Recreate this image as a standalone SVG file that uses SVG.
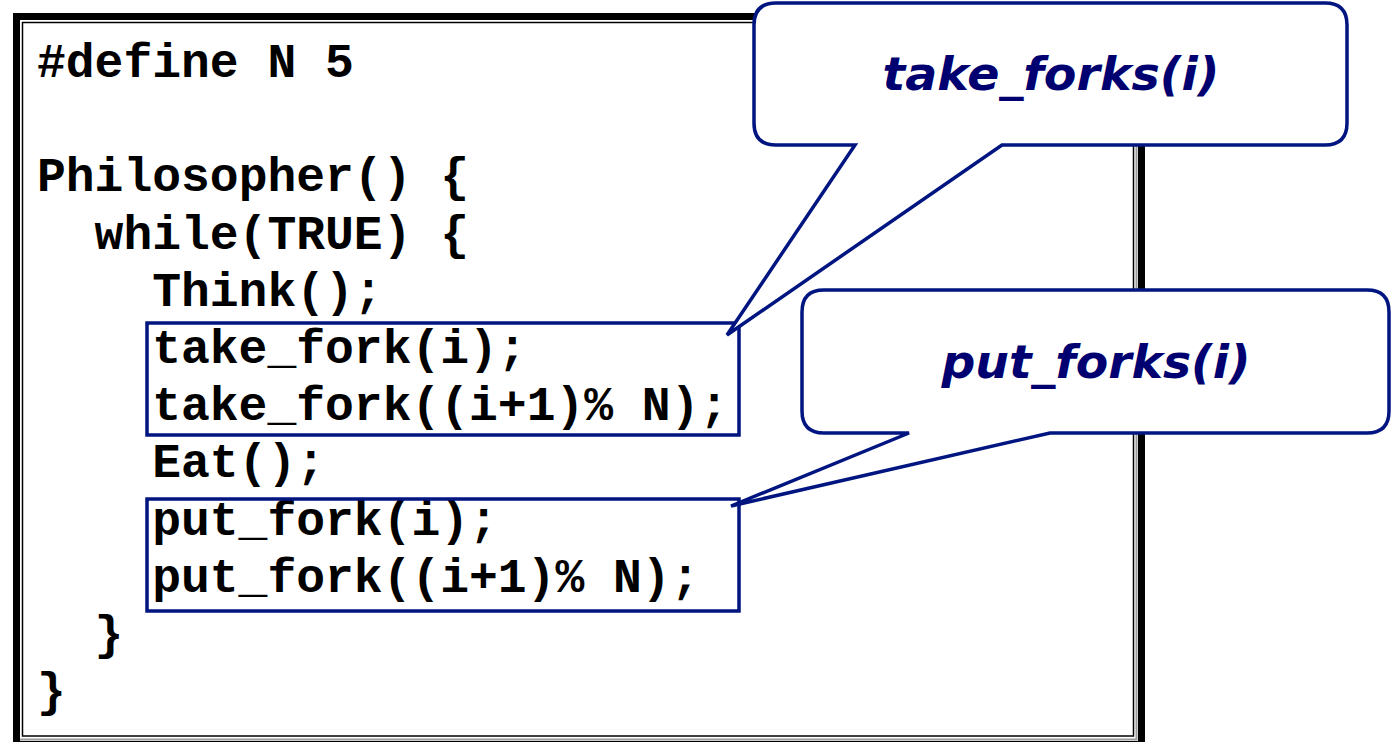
<svg xmlns="http://www.w3.org/2000/svg" width="1391" height="742" viewBox="0 0 1391 742">
<style>
.code{font-family:"Liberation Mono","Courier New",monospace;font-weight:bold;font-size:48px;fill:#000}
.hl{fill:none;stroke:#001580;stroke-width:3.5}
.callout{fill:#fff;stroke:#001580;stroke-width:3.5;stroke-linejoin:miter}
.ctext{font-family:"DejaVu Sans",sans-serif;font-weight:bold;font-style:italic;font-size:47px;fill:#000070;text-anchor:middle}
</style>
<rect width="1391" height="742" fill="#fff"/>
<g id="frame">
<rect x="16.5" y="16.5" width="1125" height="728" fill="#fff" stroke="#000" stroke-width="7"/>
<polyline points="1136.5,20 1136.5,739.5 20,739.5" fill="none" stroke="#9a9a9a" stroke-width="2"/>
<rect x="22.5" y="22.5" width="1111" height="713.5" fill="none" stroke="#000" stroke-width="1.5"/>
</g>
<g id="code">
<text class="code" x="37" y="77">#define N 5</text>
<text class="code" x="37" y="191.4">Philosopher() {</text>
<text class="code" x="94.6" y="248.6">while(TRUE) {</text>
<text class="code" x="152.2" y="305.8">Think();</text>
<text class="code" x="152.2" y="363">take_fork(i);</text>
<text class="code" x="152.2" y="420.2">take_fork((i+1)% N);</text>
<text class="code" x="152.2" y="477.4">Eat();</text>
<text class="code" x="152.2" y="534.6">put_fork(i);</text>
<text class="code" x="152.2" y="591.8">put_fork((i+1)% N);</text>
<text class="code" x="94.6" y="649">}</text>
<text class="code" x="37" y="706.2">}</text>
</g>
<g id="take-box"><rect class="hl" x="147" y="323" width="592" height="112"/></g>
<g id="put-box"><rect class="hl" x="147" y="499" width="592" height="112"/></g>
<g id="callout-take">
<path class="callout" d="M776,3 H1325 Q1347,3 1347,25 V123 Q1347,145 1325,145 H1002 L727,335 L855,145 H776 Q754,145 754,123 V25 Q754,3 776,3 Z"/>
<text class="ctext" x="1051" y="90" textLength="337" lengthAdjust="spacingAndGlyphs">take_forks(i)</text>
</g>
<g id="callout-put">
<path class="callout" d="M824,290 H1367 Q1389,290 1389,312 V411 Q1389,433 1367,433 H1050 L731,506 L909,433 H824 Q802,433 802,411 V312 Q802,290 824,290 Z"/>
<text class="ctext" x="1096" y="378" textLength="309" lengthAdjust="spacingAndGlyphs">put_forks(i)</text>
</g>
</svg>
